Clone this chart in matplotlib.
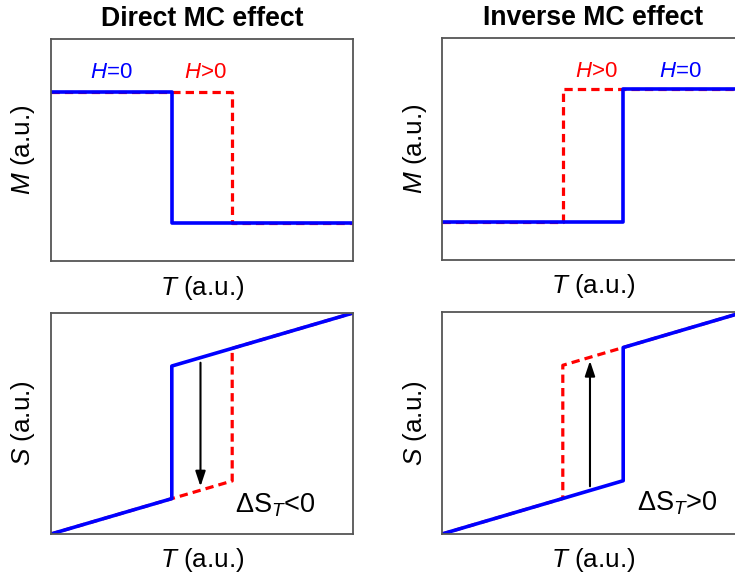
import matplotlib
matplotlib.use("Agg")
import matplotlib.pyplot as plt

plt.rcParams['font.family'] = ['Liberation Sans', 'DejaVu Sans']
plt.rcParams['mathtext.fontset'] = 'custom'
plt.rcParams['mathtext.rm'] = 'Liberation Sans'
plt.rcParams['mathtext.it'] = 'Liberation Sans:italic'
plt.rcParams['mathtext.bf'] = 'Liberation Sans:bold'

# ---- data ----
titles = ["Direct MC effect", "Inverse MC effect"]
# Magnetization step curves (T, M)
M_direct_H0_T = [0.0, 0.40, 0.40, 1.0]
M_direct_H0_M = [0.76, 0.76, 0.17, 0.17]
M_direct_H1_T = [0.0, 0.60, 0.60, 1.0]
M_direct_H1_M = [0.76, 0.76, 0.17, 0.17]
M_inverse_H0_T = [0.0, 0.60, 0.60, 1.0]
M_inverse_H0_M = [0.17, 0.17, 0.77, 0.77]
M_inverse_H1_T = [0.0, 0.40, 0.40, 1.0]
M_inverse_H1_M = [0.17, 0.17, 0.77, 0.77]
# Entropy curves (T, S)
S_direct_H0_T = [0.0, 0.40, 0.40, 1.0]
S_direct_H0_S = [0.0, 0.16, 0.76, 1.0]
S_direct_H1_T = [0.0, 0.60, 0.60, 1.0]
S_direct_H1_S = [0.0, 0.24, 0.84, 1.0]
S_inverse_H0_T = [0.0, 0.60, 0.60, 1.0]
S_inverse_H0_S = [0.0, 0.24, 0.84, 1.0]
S_inverse_H1_T = [0.0, 0.40, 0.40, 1.0]
S_inverse_H1_S = [0.0, 0.16, 0.76, 1.0]
# arrows (x, y_start, y_end)
arrow_direct = [0.495, 0.775, 0.215]
arrow_inverse = [0.49, 0.215, 0.78]
dS_labels = [r"$\Delta\mathrm{S}_{T}$<0", r"$\Delta\mathrm{S}_{T}$>0"]

W, H = 735, 576
fig = plt.figure(figsize=(W / 100, H / 100), dpi=100)

def ax_at(x0, y0, x1, y1):
    return fig.add_axes([x0 / W, 1 - y1 / H, (x1 - x0) / W, (y1 - y0) / H])

axes = [
    ax_at(51, 39, 353, 261),
    ax_at(442, 38, 744, 260),
    ax_at(51, 313, 353, 534),
    ax_at(442, 312, 744, 534),
]

blue = '#0000FF'
red = '#FF0000'
dash = (0, (2.6, 1.6))
lw = 2.3
astyle = '-|>,head_length=0.75,head_width=0.25'

for ax in axes:
    ax.set_xlim(0, 1)
    ax.set_ylim(0, 1)
    ax.set_xticks([])
    ax.set_yticks([])
    for s in ax.spines.values():
        s.set_color('#555555')
        s.set_linewidth(1.3)

fs = 18.8
# Top-left
ax = axes[0]
ax.plot(M_direct_H1_T, M_direct_H1_M, color=red, lw=lw, ls=dash)
ax.plot(M_direct_H0_T, M_direct_H0_M, color=blue, lw=lw + 0.3)
ax.text(0.20, 0.85, r"$H$=0", color=blue, fontsize=16, ha='center', va='center')
ax.text(0.51, 0.85, r"$H$>0", color=red, fontsize=16, ha='center', va='center')
ax.set_title(titles[0], fontsize=19.2, fontweight='bold', pad=9)
ax.set_ylabel(r"$M$ (a.u.)", fontsize=fs, labelpad=10)
ax.set_xlabel(r"$T$ (a.u.)", fontsize=fs, labelpad=9)

# Top-right
ax = axes[1]
ax.plot(M_inverse_H1_T, M_inverse_H1_M, color=red, lw=lw, ls=dash)
ax.plot(M_inverse_H0_T, M_inverse_H0_M, color=blue, lw=lw + 0.3)
ax.text(0.51, 0.85, r"$H$>0", color=red, fontsize=16, ha='center', va='center')
ax.text(0.79, 0.85, r"$H$=0", color=blue, fontsize=16, ha='center', va='center')
ax.set_title(titles[1], fontsize=19.2, fontweight='bold', pad=9)
ax.set_ylabel(r"$M$ (a.u.)", fontsize=fs, labelpad=9)
ax.set_xlabel(r"$T$ (a.u.)", fontsize=fs, labelpad=9)

# Bottom-left
ax = axes[2]
ax.plot(S_direct_H1_T, S_direct_H1_S, color=red, lw=lw, ls=dash)
ax.plot(S_direct_H0_T, S_direct_H0_S, color=blue, lw=lw + 0.3)
ax.annotate('', xy=(arrow_direct[0], arrow_direct[2]), xytext=(arrow_direct[0], arrow_direct[1]),
            arrowprops=dict(arrowstyle=astyle, color='black', lw=1.5, mutation_scale=12,
                            shrinkA=0, shrinkB=0))
ax.text(0.61, 0.13, dS_labels[0], fontsize=19.5, ha='left', va='center')
ax.set_ylabel(r"$S$ (a.u.)", fontsize=fs, labelpad=10)
ax.set_xlabel(r"$T$ (a.u.)", fontsize=fs, labelpad=9)

# Bottom-right
ax = axes[3]
ax.plot(S_inverse_H1_T, S_inverse_H1_S, color=red, lw=lw, ls=dash)
ax.plot(S_inverse_H0_T, S_inverse_H0_S, color=blue, lw=lw + 0.3)
ax.annotate('', xy=(arrow_inverse[0], arrow_inverse[2]), xytext=(arrow_inverse[0], arrow_inverse[1]),
            arrowprops=dict(arrowstyle=astyle, color='black', lw=1.5, mutation_scale=12,
                            shrinkA=0, shrinkB=0))
ax.text(0.645, 0.14, dS_labels[1], fontsize=19.5, ha='left', va='center')
ax.set_ylabel(r"$S$ (a.u.)", fontsize=fs, labelpad=9)
ax.set_xlabel(r"$T$ (a.u.)", fontsize=fs, labelpad=9)

fig.savefig("out.png", dpi=100)
